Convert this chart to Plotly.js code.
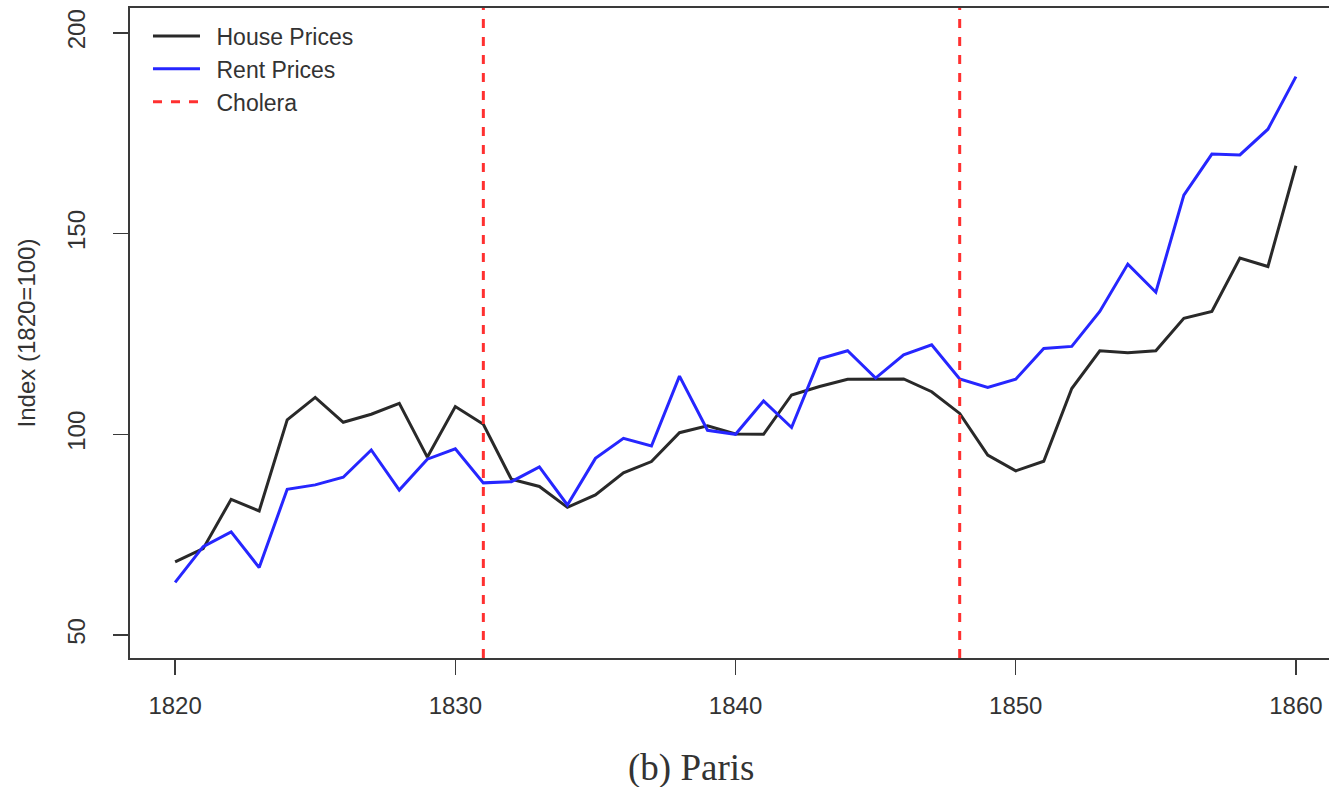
<!DOCTYPE html>
<html>
<head>
<meta charset="utf-8">
<script src="https://cdn.plot.ly/plotly-3.0.1.min.js"></script>
<style>
  html, body { margin: 0; padding: 0; background: #ffffff; }
  #chart { width: 1329px; height: 787px; }
</style>
</head>
<body>
<div id="chart"></div>
<script>
// ---- Data ----
const years = [1820,1821,1822,1823,1824,1825,1826,1827,1828,1829,
               1830,1831,1832,1833,1834,1835,1836,1837,1838,1839,
               1840,1841,1842,1843,1844,1845,1846,1847,1848,1849,
               1850,1851,1852,1853,1854,1855,1856,1857,1858,1859,1860];

const housePrices = [68.2, 71.5, 83.8, 80.9, 103.6, 109.2, 103.0, 105.0, 107.7, 94.3,
                     106.9, 102.5, 88.8, 87.0, 81.8, 84.9, 90.4, 93.2, 100.4, 102.1,
                     100.1, 100.0, 109.8, 111.9, 113.7, 113.8, 113.8, 110.6, 105.2, 94.8,
                     90.9, 93.3, 111.4, 120.8, 120.3, 120.8, 128.9, 130.6, 143.9, 141.8, 166.9];

const rentPrices = [63.1, 72.0, 75.7, 66.8, 86.3, 87.4, 89.3, 96.1, 86.1, 93.8,
                    96.4, 87.9, 88.2, 91.9, 82.4, 94.0, 99.0, 97.1, 114.5, 101.0,
                    100.0, 108.3, 101.7, 118.8, 120.8, 114.0, 119.8, 122.3, 113.8, 111.7,
                    113.7, 121.4, 121.9, 130.6, 142.4, 135.4, 159.6, 169.8, 169.6, 176.0, 189.1];

const choleraYears = [1831, 1848];

const seriesNames = ["House Prices", "Rent Prices", "Cholera"];
const xTicks = [1820, 1830, 1840, 1850, 1860];
const yTicks = [50, 100, 150, 200];
const yTitle = "Index (1820=100)";
const caption = "(b) Paris";

// ---- Layout constants ----
const yRange = [44.27, 206.2];
const xRange = [1818.39, 1861.18];
const legendPad = '\u2002'; // small gap between legend sample and label

// vertical cholera lines spanning the full plot height
const cholX = [], cholY = [];
choleraYears.forEach((yr, i) => {
  if (i > 0) { cholX.push(null); cholY.push(null); }
  cholX.push(yr, yr);
  cholY.push(yRange[0], yRange[1]);
});

const traces = [
  { x: years, y: housePrices, name: legendPad + seriesNames[0], type: 'scatter', mode: 'lines',
    line: { color: '#292929', width: 3 } },
  { x: years, y: rentPrices, name: legendPad + seriesNames[1], type: 'scatter', mode: 'lines',
    line: { color: '#2626ff', width: 3 } },
  { x: cholX, y: cholY, name: legendPad + seriesNames[2], type: 'scatter', mode: 'lines',
    line: { color: '#ff3030', width: 3, dash: '9px,9px' }, cliponaxis: true }
];

const axisFont = { family: 'Liberation Sans, Arial, sans-serif', size: 24, color: '#333333' };

const layout = {
  width: 1329, height: 787,
  paper_bgcolor: '#ffffff', plot_bgcolor: '#ffffff',
  margin: { l: 130, r: 0, t: 8, b: 129 },
  showlegend: true,
  legend: {
    x: 0.015, y: 0.99, xanchor: 'left', yanchor: 'top',
    bgcolor: 'rgba(0,0,0,0)', borderwidth: 0,
    font: { family: 'Liberation Sans, Arial, sans-serif', size: 23, color: '#333333' },
    itemwidth: 47, tracegroupgap: 0
  },
  xaxis: {
    range: xRange, tickvals: xTicks, ticktext: xTicks.map(String),
    showgrid: false, zeroline: false,
    showline: true, linecolor: '#3a3a3a', linewidth: 2, mirror: true,
    ticks: 'outside', ticklen: 15, tickwidth: 1.5, tickcolor: '#3a3a3a',
    tickfont: axisFont, ticklabelstandoff: 10
  },
  yaxis: {
    range: yRange, tickvals: yTicks, ticktext: yTicks.map(String),
    showgrid: false, zeroline: false,
    showline: true, linecolor: '#3a3a3a', linewidth: 2,
    ticks: 'outside', ticklen: 15, tickwidth: 1.5, tickcolor: '#3a3a3a',
    tickangle: -90, tickfont: axisFont, ticklabelstandoff: 18,
    title: { text: yTitle, font: axisFont, standoff: 21 }
  },
  annotations: [{
    text: caption, xref: 'paper', yref: 'paper',
    x: 0.468, y: -0.169, xanchor: 'center', yanchor: 'middle',
    showarrow: false,
    font: { family: 'Liberation Serif, Times New Roman, serif', size: 37, color: '#333333' }
  }]
};

Plotly.newPlot('chart', traces, layout, { displayModeBar: false, staticPlot: true });
</script>
</body>
</html>
